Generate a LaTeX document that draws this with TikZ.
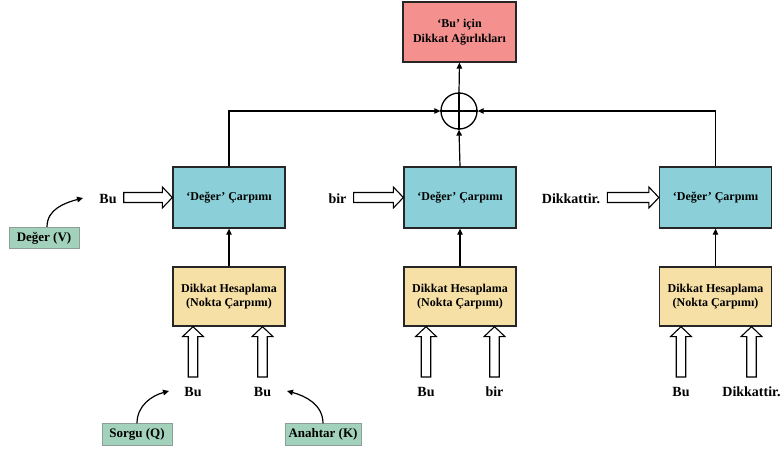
\documentclass[tikz,border=0pt]{standalone}
\usepackage{fontspec}
\setmainfont{Liberation Serif}
\usetikzlibrary{calc,arrows.meta}

\definecolor{weightred}{HTML}{F4918F}
\definecolor{valueblue}{HTML}{8BD0D8}
\definecolor{scoreyellow}{HTML}{F7E0A6}
\definecolor{inputgreen}{HTML}{A3D2BC}
\definecolor{greenedge}{HTML}{8E9E96}

% hollow block arrow pointing right: from a label to the west side of a box
\newcommand\hollowright[2]{%
  \draw[hollow] let \p1=(#1.east), \p2=(#2.west) in
    (\x1+7pt,\y2+5pt) -- (\x2-10pt,\y2+5pt) -- (\x2-10pt,\y2+10.5pt) -- (\x2,\y2)
    -- (\x2-10pt,\y2-10.5pt) -- (\x2-10pt,\y2-5pt) -- (\x1+7pt,\y2-5pt) -- cycle;}
% hollow block arrow pointing up: from a label to the south side of a box
\newcommand\hollowup[2]{%
  \draw[hollow] let \p1=(#1.base), \p2=(#2.south) in
    (\x1-4.75pt,\y1+19pt) -- (\x1-4.75pt,\y2-10pt) -- (\x1-10.5pt,\y2-10pt) -- (\x1,\y2)
    -- (\x1+10.5pt,\y2-10pt) -- (\x1+4.75pt,\y2-10pt) -- (\x1+4.75pt,\y1+19pt) -- cycle;}

\tikzset{
  box/.style={draw=black!85, line width=1.3pt, align=center, inner sep=0pt,
    font=\fontsize{12}{14.5}\selectfont\bfseries},
  weightbox/.style={box, fill=weightred, minimum width=113pt, minimum height=60pt},
  valuebox/.style={box, fill=valueblue, minimum width=112pt, minimum height=61pt},
  scorebox/.style={box, fill=scoreyellow, minimum width=112pt, minimum height=59pt},
  inputbox/.style={draw=greenedge, line width=0.8pt, fill=inputgreen, inner sep=0pt,
    minimum height=21.5pt, font=\fontsize{13}{15}\selectfont\bfseries},
  word/.style={inner sep=0pt, anchor=base, font=\fontsize{14}{16}\selectfont\bfseries},
  arr/.style={line width=1.2pt, -{Triangle[length=6pt,width=5.5pt]}},
  link/.style={line width=1.2pt},
  hollow/.style={draw=black, line width=1.1pt, fill=white, line join=miter},
  sumnode/.style={circle, draw=black, line width=1.3pt, minimum size=36pt, inner sep=0pt}
}

\begin{document}
\begin{tikzpicture}[x=1pt,y=-1pt]
  \useasboundingbox (0,0) rectangle (784,450);

  % output and summation
  \node[weightbox] (w) at (459.5,32) {‘Bu’ için\\Dikkat Ağırlıkları};
  \node[sumnode] (p) at (459,111) {};
  \draw[link] (p.north) -- (p.south) (p.west) -- (p.east);

  % value products
  \node[valuebox] (v1) at (229,197.5) {‘Değer’ Çarpımı};
  \node[valuebox] (v2) at (460,197.5) {‘Değer’ Çarpımı};
  \node[valuebox] (v3) at (715.5,197.5) {‘Değer’ Çarpımı};

  % attention scores
  \node[scorebox] (a1) at (229,296.5) {Dikkat Hesaplama\\(Nokta Çarpımı)};
  \node[scorebox] (a2) at (460,296.5) {Dikkat Hesaplama\\(Nokta Çarpımı)};
  \node[scorebox] (a3) at (715.5,296.5) {Dikkat Hesaplama\\(Nokta Çarpımı)};

  % value words
  \node[word] (lv1) at (108,203) {Bu};
  \node[word] (lv2) at (337.5,203) {bir};
  \node[word] (lv3) at (571,203) {Dikkattir.};

  % query / key words
  \node[word] (q1) at (193,396) {Bu};
  \node[word] (k1) at (262.5,396) {Bu};
  \node[word] (q2) at (426,396) {Bu};
  \node[word] (k2) at (494.5,396) {bir};
  \node[word] (q3) at (681,396) {Bu};
  \node[word] (k3) at (751.5,396) {Dikkattir.};

  % role labels
  \node[inputbox, minimum width=70pt] (gV) at (44,238) {Değer (V)};
  \node[inputbox, minimum width=70pt] (gQ) at (137,434.5) {Sorgu (Q)};
  \node[inputbox, minimum width=76pt] (gK) at (323,434.5) {Anahtar (K)};
  \coordinate (cV) at (83,198);
  \coordinate (cQ) at (169,391);
  \coordinate (cK) at (287,391);

  % connectors
  \draw[arr] (p.north) -- (w.south);
  \draw[arr] (v1.north) |- (p.west);
  \draw[arr] (v2.north) -- (p.south);
  \draw[arr] (v3.north) |- (p.east);
  \draw[arr] (a1.north) -- (v1.south);
  \draw[arr] (a2.north) -- (v2.south);
  \draw[arr] (a3.north) -- (v3.south);

  \hollowright{lv1}{v1}
  \hollowright{lv2}{v2}
  \hollowright{lv3}{v3}

  \hollowup{q1}{a1}
  \hollowup{k1}{a1}
  \hollowup{q2}{a2}
  \hollowup{k2}{a2}
  \hollowup{q3}{a3}
  \hollowup{k3}{a3}

  \draw[arr] ([xshift=3pt]gV.north) to[out=90,in=195] (cV);
  \draw[arr] (gQ.north) to[out=90,in=195] (cQ);
  \draw[arr] (gK.north) to[out=90,in=-15] (cK);
\end{tikzpicture}
\end{document}
